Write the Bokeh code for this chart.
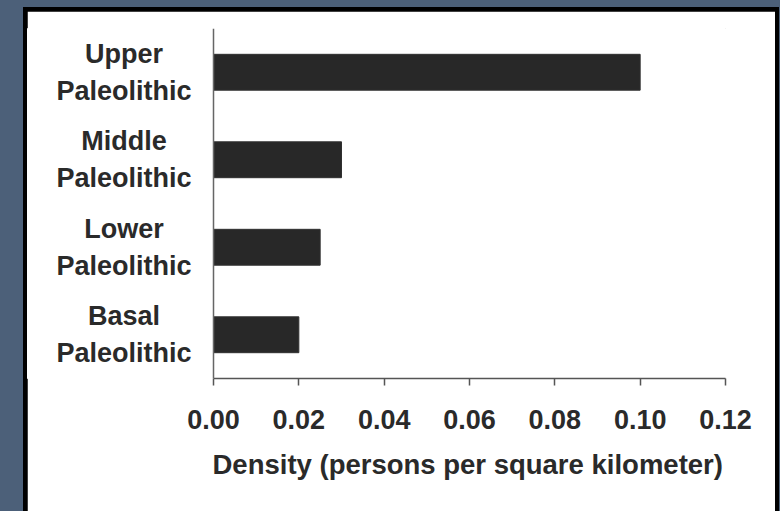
from bokeh.plotting import figure
from bokeh.models import ColumnDataSource, FixedTicker, Span, Title
from bokeh.core.properties import value
from bokeh.layouts import column
from bokeh.embed import file_html
from bokeh.resources import INLINE

# data
categories = ["Basal\nPaleolithic", "Lower\nPaleolithic", "Middle\nPaleolithic", "Upper\nPaleolithic"]
density = [0.020, 0.025, 0.030, 0.100]
x_ticks = [0.00, 0.02, 0.04, 0.06, 0.08, 0.10, 0.12]
x_tick_labels = ["0.00", "0.02", "0.04", "0.06", "0.08", "0.10", "0.12"]
x_title = "Density (persons per square kilometer)"

ypos = list(range(len(categories)))
src = ColumnDataSource(dict(y=ypos, right=density))

BG = "#4c6079"
TXT = "#2a2a2a"
FONT = "Liberation Sans"

X_MAX = 0.12
PX_PER_UNIT = 512 / X_MAX          # frame scale: 0..0.12 over 512 px
X_MIN = -186 / PX_PER_UNIT         # room for the category names
LABEL_X = -89.5 / PX_PER_UNIT

p = figure(width=748, height=500, output_backend="svg", toolbar_location=None,
           x_range=(X_MIN, X_MAX), y_range=(-0.5, 3.5),
           y_axis_location=None,
           frame_width=698, frame_height=350,
           min_border_left=0, min_border_right=50,
           min_border_top=17, min_border_bottom=133)
p.border_fill_color = "white"
p.background_fill_color = "white"
p.outline_line_color = "white"
p.xgrid.visible = False
p.ygrid.visible = False

p.hbar(y="y", right="right", left=0, height=0.41, source=src,
       fill_color="#282828", line_color="#303030", line_width=1)

xa = p.xaxis[0]
xa.bounds = (0, X_MAX)
xa.ticker = FixedTicker(ticks=x_ticks)
xa.major_label_overrides = {t: l for t, l in zip(x_ticks, x_tick_labels)}
xa.minor_tick_line_color = None
xa.major_tick_in = 0
xa.major_tick_out = 7
xa.major_tick_line_color = "#555555"
xa.major_tick_line_width = 1.5
xa.axis_line_color = "#555555"
xa.axis_line_width = 1.5
xa.major_label_text_font = FONT
xa.major_label_text_font_style = "bold"
xa.major_label_text_font_size = "27px"
xa.major_label_text_color = TXT
xa.major_label_standoff = 24

# axis title, left-aligned so that it sits centred under the 0..0.12 axis
p.add_layout(Title(text=x_title, align="left", offset=185, standoff=30,
                   text_font=FONT, text_font_style="bold", text_font_size="27.5px",
                   text_color=TXT), "below")

# category axis line at x = 0
p.add_layout(Span(location=0, dimension="height", line_color="#666666", line_width=1.5))

p.text(x=[LABEL_X] * len(ypos), y=ypos, text=categories,
       text_align="center", text_baseline="middle",
       text_font=value(FONT), text_font_style="bold", text_font_size="27px",
       text_color=TXT, text_line_height=1.22)

inner = column(p, styles={"background-color": "black", "padding": "4px 4px 0px 4px"})
outer = column(inner, styles={"background-color": BG, "padding": "7px 1px 0px 23px"})

open("out.html", "w").write(file_html(outer, INLINE))
